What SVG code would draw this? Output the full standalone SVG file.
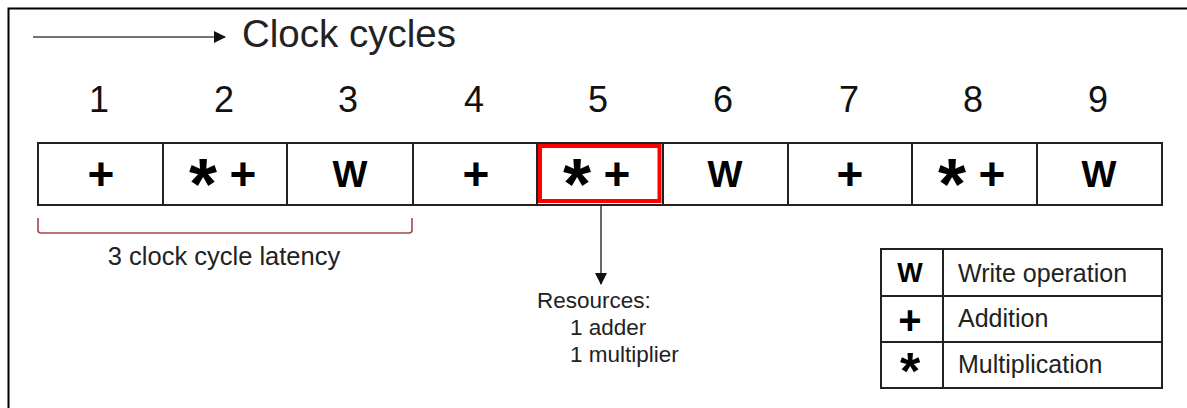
<svg xmlns="http://www.w3.org/2000/svg" width="1187" height="408" viewBox="0 0 1187 408">
<defs>
<style>
.frame{fill:none;stroke:#000;stroke-width:2}
.cell{fill:#fff;stroke:#222;stroke-width:2}
.hl{fill:none;stroke:#ff0000;stroke-width:4}
.sym{font-family:"Liberation Sans",Arial,sans-serif;font-weight:bold;fill:#000;text-anchor:middle}
.num{font-family:"Liberation Sans",Arial,sans-serif;font-size:36px;fill:#111;text-anchor:middle}
.lbl{font-family:"Liberation Sans",Arial,sans-serif;fill:#222}
.conn{fill:none;stroke:#444;stroke-width:1.6}
.brk{fill:none;stroke:#a8444a;stroke-width:1.6}
</style>
<marker id="ah" viewBox="0 0 12 12" refX="11" refY="6" markerWidth="12" markerHeight="12" markerUnits="userSpaceOnUse" orient="auto">
<path d="M0,0 L12,6 L0,12 Z" fill="#111"/>
</marker>
</defs>
<rect width="1187" height="408" fill="#fff"/>
<path class="frame" d="M8.5,408 V8.5 H1187"/>

<g id="title">
<text class="lbl" x="242" y="47" font-size="38.5">Clock cycles</text>
</g>

<g id="numbers">
<text class="num" x="99" y="112">1</text>
<text class="num" x="224" y="112">2</text>
<text class="num" x="348" y="112">3</text>
<text class="num" x="474" y="112">4</text>
<text class="num" x="598" y="112">5</text>
<text class="num" x="723" y="112">6</text>
<text class="num" x="849" y="112">7</text>
<text class="num" x="973" y="112">8</text>
<text class="num" x="1098" y="112">9</text>
</g>

<g id="cell1"><rect class="cell" x="38" y="143" width="125" height="62"/><text class="sym" x="101" y="189.5" font-size="46">+</text></g>
<g id="cell2"><rect class="cell" x="163" y="143" width="124" height="62"/><text class="sym" x="203" y="209" font-size="72">*</text><text class="sym" x="243" y="189.5" font-size="46">+</text></g>
<g id="cell3"><rect class="cell" x="287" y="143" width="126" height="62"/><text class="sym" x="350" y="187" font-size="37">W</text></g>
<g id="cell4"><rect class="cell" x="413" y="143" width="124" height="62"/><text class="sym" x="476" y="189.5" font-size="46">+</text></g>
<g id="cell5"><rect class="cell" x="537" y="143" width="126" height="62"/><rect class="hl" x="540" y="146" width="119.5" height="55"/><text class="sym" x="577" y="209" font-size="72">*</text><text class="sym" x="617" y="189.5" font-size="46">+</text></g>
<g id="cell6"><rect class="cell" x="663" y="143" width="125" height="62"/><text class="sym" x="725" y="187" font-size="37">W</text></g>
<g id="cell7"><rect class="cell" x="788" y="143" width="124" height="62"/><text class="sym" x="850" y="189.5" font-size="46">+</text></g>
<g id="cell8"><rect class="cell" x="912" y="143" width="125" height="62"/><text class="sym" x="952" y="209" font-size="72">*</text><text class="sym" x="992" y="189.5" font-size="46">+</text></g>
<g id="cell9"><rect class="cell" x="1037" y="143" width="125" height="62"/><text class="sym" x="1099" y="187" font-size="37">W</text></g>

<g id="latency-label">
<text class="lbl" x="224" y="265" font-size="25.5" text-anchor="middle">3 clock cycle latency</text>
</g>

<g id="resources">
<text class="lbl" x="537" y="308" font-size="22.5">Resources:</text>
<text class="lbl" x="570" y="335" font-size="22.5">1 adder</text>
<text class="lbl" x="570" y="362" font-size="22.5">1 multiplier</text>
</g>

<g id="legend">
<rect class="cell" x="881" y="249" width="281" height="139"/>
<line class="cell" x1="943" y1="249" x2="943" y2="388"/>
<line class="cell" x1="881" y1="296" x2="1162" y2="296"/>
<line class="cell" x1="881" y1="342" x2="1162" y2="342"/>
<text class="sym" x="910" y="282" font-size="27">W</text>
<text class="sym" x="910" y="334" font-size="40">+</text>
<text class="sym" x="910" y="389" font-size="52">*</text>
<text class="lbl" x="958" y="282" font-size="25">Write operation</text>
<text class="lbl" x="958" y="327" font-size="25">Addition</text>
<text class="lbl" x="958" y="373" font-size="25">Multiplication</text>
</g>

<g id="connectors">
<line class="conn" x1="33" y1="37" x2="225" y2="37" marker-end="url(#ah)"/>
<line class="conn" x1="601" y1="206" x2="601" y2="284" marker-end="url(#ah)"/>
<path class="brk" d="M38,218 V230 Q38,233 41,233 H409 Q412,233 412,230 V218"/>
</g>
</svg>
